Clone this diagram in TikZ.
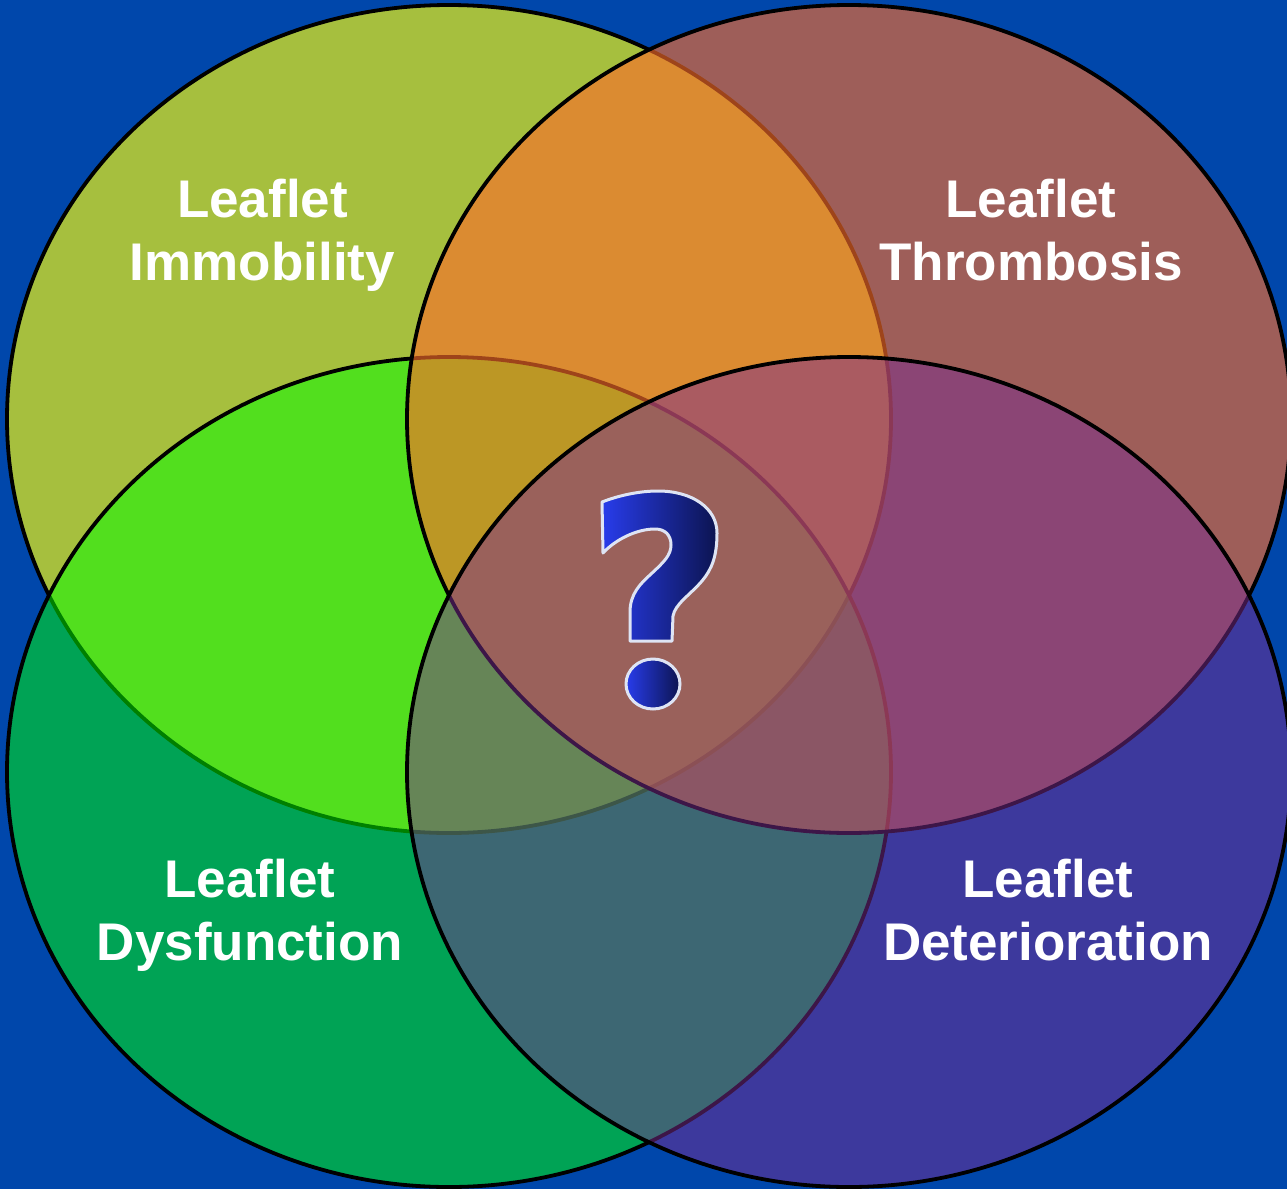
\documentclass[tikz,border=0pt]{standalone}
\usepackage{fontspec}
\setmainfont{Liberation Sans}
\definecolor{bgblue}{RGB}{0,71,171}
\definecolor{cA}{RGB}{166,191,62}
\definecolor{cB}{RGB}{251,109,42}
\definecolor{cC}{RGB}{0,255,0}
\definecolor{cD}{RGB}{122,45,145}
\definecolor{qL}{RGB}{40,60,235}
\definecolor{qM}{RGB}{30,44,180}
\definecolor{qR}{RGB}{12,20,80}
\definecolor{qO}{RGB}{222,228,244}
\tikzset{
  vennline/.style={draw=black, line width=3.8pt},
  lbl/.style={text=white, font=\fontsize{53}{63}\selectfont\bfseries, inner sep=0pt, anchor=base},
  qshade/.style={left color=qL, middle color=qM, right color=qR, draw=qO, line width=3pt, line join=round},
}
\begin{document}
\begin{tikzpicture}[x=1pt,y=-1pt]
\useasboundingbox (0,0) rectangle (1287,1189);
\fill[bgblue] (0,0) rectangle (1287,1189);
\coordinate (cTL) at (449,419);
\coordinate (cTR) at (849,419);
\coordinate (cBL) at (449,772);
\coordinate (cBR) at (849,772);
\begin{scope}
\clip (0,0) rectangle (1287,1189);
% A: top-left
\fill[cA] (cTL) ellipse [x radius=442pt, y radius=414pt];
\draw[vennline] (cTL) ellipse [x radius=442pt, y radius=414pt];
% C: bottom-left
\fill[cC, fill opacity=0.5] (cBL) ellipse [x radius=442pt, y radius=415pt];
\draw[vennline] (cBL) ellipse [x radius=442pt, y radius=415pt];
% B: top-right
\fill[cB, fill opacity=0.63] (cTR) ellipse [x radius=442pt, y radius=414pt];
\draw[vennline] (cTR) ellipse [x radius=442pt, y radius=414pt];
% D: bottom-right
\fill[cD, fill opacity=0.5] (cBR) ellipse [x radius=442pt, y radius=415pt];
\draw[vennline] (cBR) ellipse [x radius=442pt, y radius=415pt];
\end{scope}
% labels
\node[lbl] (imm1) at (262.5,217) {Leaflet};
\node[lbl] (imm2) at (262.5,280) {Immobility};
\node[lbl] (thr1) at (1031,217) {Leaflet};
\node[lbl] (thr2) at (1031,280) {Thrombosis};
\node[lbl] (dys1) at (250,897) {Leaflet};
\node[lbl] (dys2) at (250,960) {Dysfunction};
\node[lbl] (det1) at (1048,897) {Leaflet};
\node[lbl] (det2) at (1048,960) {Deterioration};
% question mark
\shadedraw[qshade]
  (602,502) .. controls (620,495) and (640,491) .. (658,491)
  .. controls (692,491) and (717,508) .. (717,533)
  .. controls (717,556) and (712,569) .. (702,581)
  .. controls (690,595) and (675,604) .. (673,616)
  -- (672,641) -- (630,641) -- (630,612)
  .. controls (630,594) and (640,584) .. (651,574)
  .. controls (664,562) and (671,555) .. (671,545)
  .. controls (671,535) and (665,529) .. (655,529)
  .. controls (636,529) and (615,540) .. (603,553)
  -- cycle;
\shadedraw[qshade]
  (653,684) ellipse [x radius=27pt, y radius=25pt];
\end{tikzpicture}
\end{document}
